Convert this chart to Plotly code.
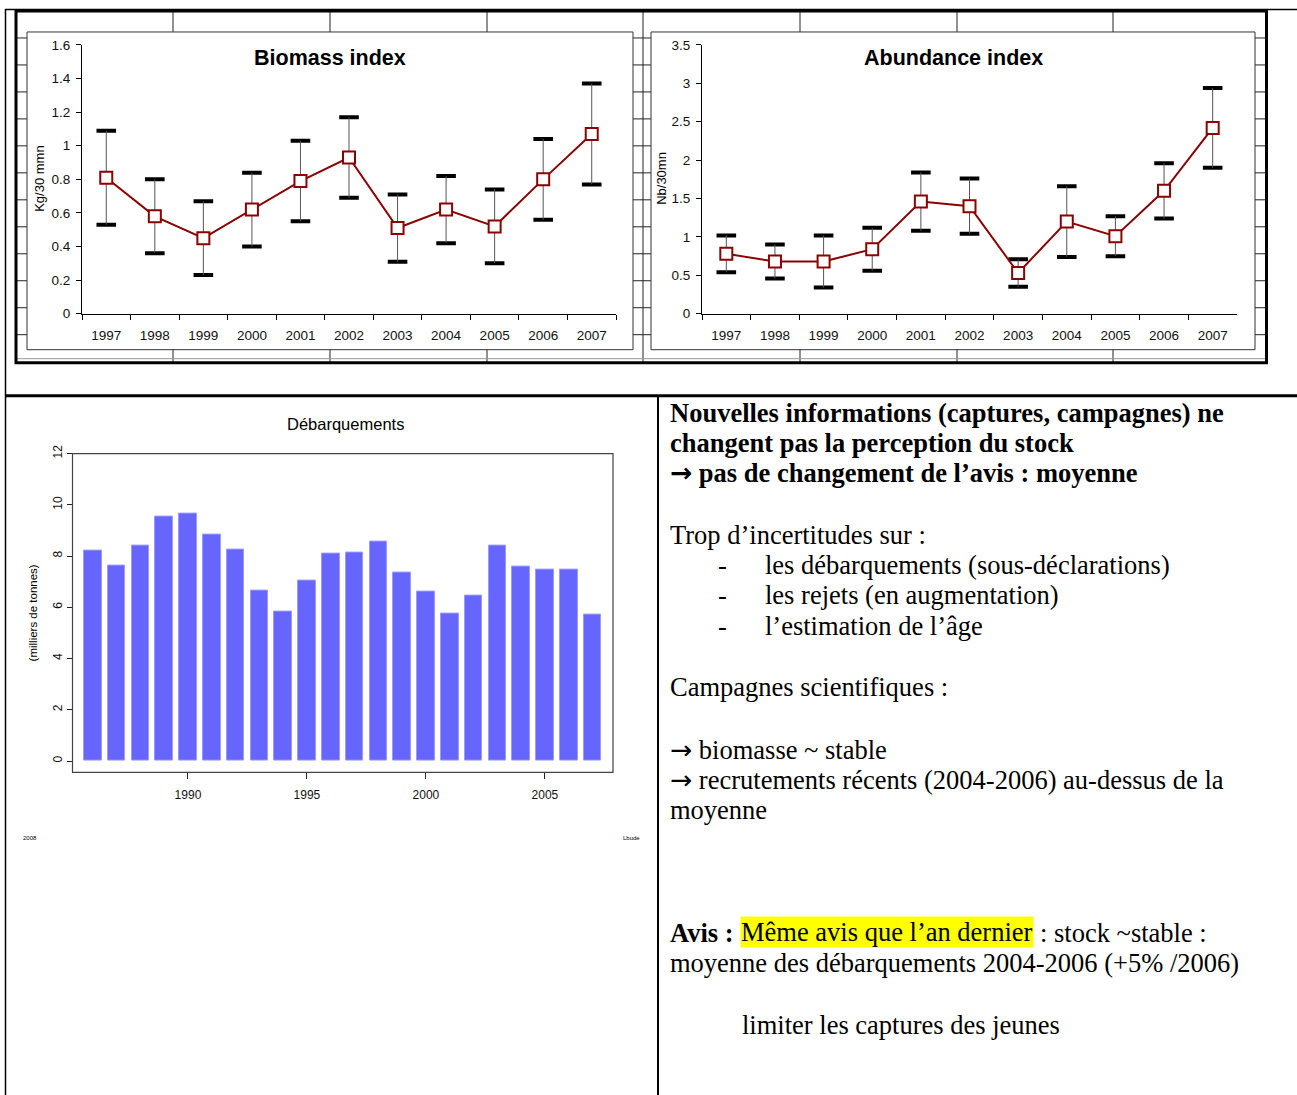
import plotly.graph_objects as go

# Survey indices 1997-2007
years = [str(y) for y in range(1997, 2008)]
biomass = [0.81, 0.58, 0.45, 0.62, 0.79, 0.93, 0.51, 0.62, 0.52, 0.80, 1.07]
biomass_hi = [1.09, 0.80, 0.67, 0.84, 1.03, 1.17, 0.71, 0.82, 0.74, 1.04, 1.37]
biomass_lo = [0.53, 0.36, 0.23, 0.40, 0.55, 0.69, 0.31, 0.42, 0.30, 0.56, 0.77]
abundance = [0.78, 0.68, 0.68, 0.84, 1.46, 1.40, 0.53, 1.20, 1.01, 1.60, 2.42]
abundance_hi = [1.02, 0.90, 1.02, 1.12, 1.84, 1.76, 0.71, 1.66, 1.27, 1.96, 2.94]
abundance_lo = [0.54, 0.46, 0.34, 0.56, 1.08, 1.04, 0.35, 0.74, 0.75, 1.24, 1.90]

# Landings (thousand tonnes)
landing_years = list(range(1986, 2008))
landings = [8.21, 7.62, 8.39, 9.53, 9.64, 8.84, 8.27, 6.66, 5.83, 7.06, 8.09,
            8.12, 8.58, 7.35, 6.62, 5.77, 6.45, 8.39, 7.58, 7.48, 7.49, 5.70]

W, H = 1297, 1095
# the page shows the figure 8px down and 1079px tall, so map page pixels through that
TOP, PH = 8, 1079
RED = "#8B0000"
SANS = "Liberation Sans, Arial, sans-serif"
SERIF = "Liberation Serif, Times New Roman, serif"
ARROW = '<span style="font-family:DejaVu Sans">→</span>'


def fx(p):
    return p / W


def fy(p):
    return 1 - (p - TOP) / PH


fig = go.Figure()


def add_index(vals, hi, lo, xa, ya):
    # thick black caps
    fig.add_trace(go.Scatter(
        x=years + years, y=hi + lo, mode="markers",
        marker=dict(symbol="line-ew", size=14, line=dict(width=4, color="black")),
        xaxis=xa, yaxis=ya, showlegend=False, hoverinfo="skip",
    ))
    # series with thin stems
    fig.add_trace(go.Scatter(
        x=years, y=vals, mode="lines+markers",
        line=dict(color=RED, width=2),
        marker=dict(symbol="square", size=12, color="white", line=dict(color=RED, width=2)),
        error_y=dict(type="data", symmetric=False,
                     array=[h - v for h, v in zip(hi, vals)],
                     arrayminus=[v - l for v, l in zip(vals, lo)],
                     width=0, thickness=1, color="#555"),
        xaxis=xa, yaxis=ya, showlegend=False,
    ))


add_index(biomass, biomass_hi, biomass_lo, "x", "y")
add_index(abundance, abundance_hi, abundance_lo, "x2", "y2")

fig.add_trace(go.Bar(
    x=landing_years, y=landings, width=0.74,
    marker=dict(color="#6666FF", line=dict(color="#9a9aff", width=1)),
    xaxis="x3", yaxis="y3", showlegend=False,
))


def cat_x(x0, x1, anchor):
    return dict(domain=[fx(x0), fx(x1)], anchor=anchor, type="category",
                categoryorder="array", categoryarray=years, range=[-0.5, 10.5],
                tickson="boundaries", ticks="outside", ticklen=5, tickcolor="black",
                showline=True, linecolor="black", linewidth=1, showgrid=False,
                zeroline=False, ticklabelstandoff=9,
                tickfont=dict(family=SANS, size=13.5, color="#111"))


def val_y(top, dtick, anchor):
    return dict(domain=[fy(313), fy(44)], anchor=anchor, range=[0, top], dtick=dtick,
                ticks="outside", ticklen=5, tickcolor="black", showline=True,
                linecolor="black", linewidth=1, showgrid=False, zeroline=False,
                ticklabelstandoff=3,
                tickfont=dict(family=SANS, size=13.5, color="#111"))


# table lines and frames
shapes = []


def seg(x0, y0, x1, y1, w=1, c="black"):
    shapes.append(dict(type="line", xref="paper", yref="paper", layer="below",
                       x0=fx(x0), y0=fy(y0), x1=fx(x1), y1=fy(y1),
                       line=dict(color=c, width=w)))


def box(x0, y0, x1, y1, w=1, c="black", fill="rgba(0,0,0,0)"):
    shapes.append(dict(type="rect", xref="paper", yref="paper", layer="below",
                       x0=fx(x0), y0=fy(y0), x1=fx(x1), y1=fy(y1),
                       line=dict(color=c, width=w), fillcolor=fill))


seg(5, 8.5, 1297, 8.5, 1.5)
seg(5.5, 8, 5.5, 1095, 1.5)
for gx in [173, 330, 487, 643, 800, 957, 1113]:
    seg(gx, 10, gx, 362, 1, "#222")
for gy in [37, 64, 91, 118, 145, 172, 199, 226, 253, 280, 307, 334]:
    seg(16, gy, 1267, gy, 1, "#222")
seg(16, 358, 1267, 358, 1, "#999")
box(27, 31, 633, 349, 1, "#333", "white")
box(651, 31, 1255, 349, 1, "#333", "white")
box(16, 10, 1266.5, 362, 3)
seg(5, 395, 1297, 395, 3)
seg(658, 395, 658, 1095, 2)
box(72.5, 453, 613, 772, 1.2, "#444")

annotations = []


def note(x, y, text, size, family=SANS, xanchor="center", angle=0, bg=None):
    a = dict(xref="paper", yref="paper", x=fx(x), y=fy(y), text=text, showarrow=False,
             xanchor=xanchor, yanchor="middle", textangle=angle,
             font=dict(family=family, size=size, color="black"))
    if bg:
        a.update(bgcolor=bg, borderpad=0)
    annotations.append(a)


note(330, 57, "<b>Biomass index</b>", 21.5)
note(953, 57, "<b>Abundance index</b>", 21.5)
note(40, 178, "Kg/30 mmn", 13, angle=-90)
note(662, 178, "Nb/30mn", 13, angle=-90)
note(345, 423, "Débarquements", 16.5)
note(33, 613, "(milliers de tonnes)", 11.5, angle=-90)
note(30, 838, "2008", 6)
note(631, 838, "Lbude", 6)

TS = 26.5
note(668, 412, "<b>Nouvelles informations (captures, campagnes) ne</b>", TS, SERIF, "left")
note(668, 442, "<b>changent pas la perception du stock</b>", TS, SERIF, "left")
note(668, 472, "<b>" + ARROW + " pas de changement de l’avis : moyenne</b>", TS, SERIF, "left")
note(668, 534, "Trop d’incertitudes sur :", TS, SERIF, "left")
for yy, txt in [(565, "les débarquements (sous-déclarations)"),
                (595, "les rejets (en augmentation)"),
                (626, "l’estimation de l’âge")]:
    note(716, yy, "-", TS, SERIF, "left")
    note(763, yy, txt, TS, SERIF, "left")
note(668, 687, "Campagnes scientifiques :", TS, SERIF, "left")
note(668, 749, ARROW + " biomasse ~ stable", TS, SERIF, "left")
note(668, 779, ARROW + " recrutements récents (2004-2006) au-dessus de la", TS, SERIF, "left")
note(668, 810, "moyenne", TS, SERIF, "left")
note(668, 933, "<b>Avis :</b>", TS, SERIF, "left")
note(740, 932, "Même avis que l’an dernier", TS, SERIF, "left", bg="#FFFF00")
note(1038, 933, ": stock ~stable :", TS, SERIF, "left")
note(668, 963, "moyenne des débarquements 2004-2006 (+5% /2006)", TS, SERIF, "left")
note(740, 1025, "limiter les captures des jeunes", TS, SERIF, "left")

fig.update_layout(
    width=W, height=H, autosize=False,
    margin=dict(l=0, r=0, t=0, b=0),
    paper_bgcolor="white", plot_bgcolor="rgba(0,0,0,0)",
    xaxis=cat_x(82, 616, "y"),
    yaxis=val_y(1.6, 0.2, "x"),
    xaxis2=cat_x(702, 1237, "y2"),
    yaxis2=val_y(3.5, 0.5, "x2"),
    xaxis3=dict(domain=[fx(73), fx(613)], anchor="y3", range=[1985.17, 2007.86],
                tickvals=[1990, 1995, 2000, 2005], ticks="outside", ticklen=6,
                tickcolor="#222", showline=False, showgrid=False, zeroline=False,
                ticklabelstandoff=5,
                tickfont=dict(family=SANS, size=12, color="#111")),
    yaxis3=dict(domain=[fy(772), fy(453)], anchor="x3", range=[-0.44, 12],
                tickvals=[0, 2, 4, 6, 8, 10, 12], tickangle=-90, ticks="outside",
                ticklen=5, tickcolor="#222", showline=False, showgrid=False,
                zeroline=False, tickfont=dict(family=SANS, size=12, color="#111")),
    shapes=shapes,
    annotations=annotations,
    bargap=0,
)

# strip the default page margins so the figure sits at the window origin
page_css = ("var s=document.createElement('style');"
            "s.textContent='html,body{margin:0!important;padding:0!important;overflow:hidden}';"
            "document.head.appendChild(s);window.scrollTo(0,0);")
fig.write_html("out.html", config={"displayModeBar": False}, post_script=page_css)
